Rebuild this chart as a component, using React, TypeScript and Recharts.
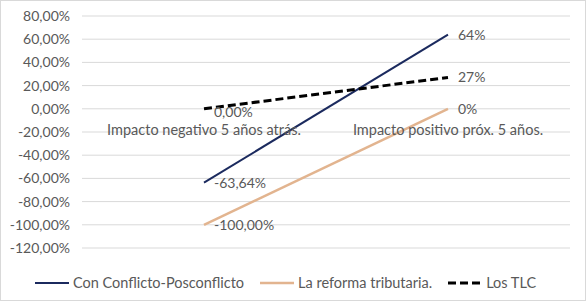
import { CartesianGrid, LabelList, Legend, Line, LineChart, ReferenceDot, XAxis, YAxis } from 'recharts'

const categories = ['Impacto negativo 5 años atrás.', 'Impacto positivo próx. 5 años.']
const conflicto = [-63.64, 64]
const reforma = [-100, 0]
const tlc = [0, 27]
const labelDecimals = [2, 0]
const yTicks = [-120, -100, -80, -60, -40, -20, 0, 20, 40, 60, 80]

const series = [
  { key: 'conflicto', name: 'Con Conflicto-Posconflicto', color: '#1b2a5e', width: 2, dash: undefined as string | undefined },
  { key: 'reforma', name: 'La reforma tributaria.', color: '#e2b48f', width: 2.5, dash: undefined as string | undefined },
  { key: 'tlc', name: 'Los TLC', color: '#000000', width: 3, dash: '8 4' },
]

const data = categories.map((c, i) => ({
  cat: c,
  conflicto: conflicto[i],
  reforma: reforma[i],
  tlc: tlc[i],
}))

const FONT = 'Lato, "Noto Sans", sans-serif'
const TEXT = '#595959'

const pct = (v: number, d = 2) => `${v.toFixed(d).replace('.', ',')}%`

function LegendBox() {
  return (
    <div style={{ height: 48, paddingTop: 22, boxSizing: 'border-box', display: 'flex', justifyContent: 'center', gap: 16, fontFamily: FONT, fontSize: 14.5, color: TEXT, lineHeight: '16px' }}>
      {series.map((s) => (
        <div key={s.key} style={{ display: 'flex', alignItems: 'center', gap: 4 }}>
          <svg width={34} height={10}>
            <line x1={0} y1={5} x2={34} y2={5} stroke={s.color} strokeWidth={s.width} strokeDasharray={s.dash} />
          </svg>
          <span>{s.name}</span>
        </div>
      ))}
    </div>
  )
}

export default function App() {
  return (
    <div style={{ position: 'absolute', left: 0, top: 0, width: 586, height: 301, background: '#fff', border: '1px solid #d9d9d9', boxSizing: 'border-box' }}>
      <LineChart width={584} height={299} data={data} margin={{ top: 15, right: 15, left: 0, bottom: 4 }}>
        <CartesianGrid vertical={false} stroke="#d9d9d9" />
        <XAxis dataKey="cat" hide scale="band" />
        <YAxis
          domain={[-120, 80]}
          ticks={yTicks}
          width={81}
          axisLine={false}
          tickLine={false}
          tickMargin={6}
          tickFormatter={(v: number) => pct(v)}
          tick={{ fontSize: 14, fill: TEXT, fontFamily: FONT }}
        />
        {categories.map((c) => (
          <ReferenceDot
            key={c}
            x={c}
            y={0}
            r={0}
            fill="none"
            stroke="none"
            label={{ value: c, position: 'bottom', offset: 16, fill: TEXT, fontSize: 14.5, fontFamily: FONT }}
          />
        ))}
        {series.map((s) => (
          <Line
            key={s.key}
            dataKey={s.key}
            name={s.name}
            stroke={s.color}
            strokeWidth={s.width}
            strokeDasharray={s.dash}
            dot={false}
            activeDot={false}
            isAnimationActive={false}
          >
            <LabelList
              dataKey={s.key}
              content={(p: any) => (
                <text x={p.x + 10} y={p.y} dy={p.index === 0 && p.value === 0 ? 8 : 5} fill={TEXT} fontSize={14} fontFamily={FONT}>
                  {pct(p.value, labelDecimals[p.index])}
                </text>
              )}
            />
          </Line>
        ))}
        <Legend verticalAlign="bottom" content={<LegendBox />} />
      </LineChart>
    </div>
  )
}
